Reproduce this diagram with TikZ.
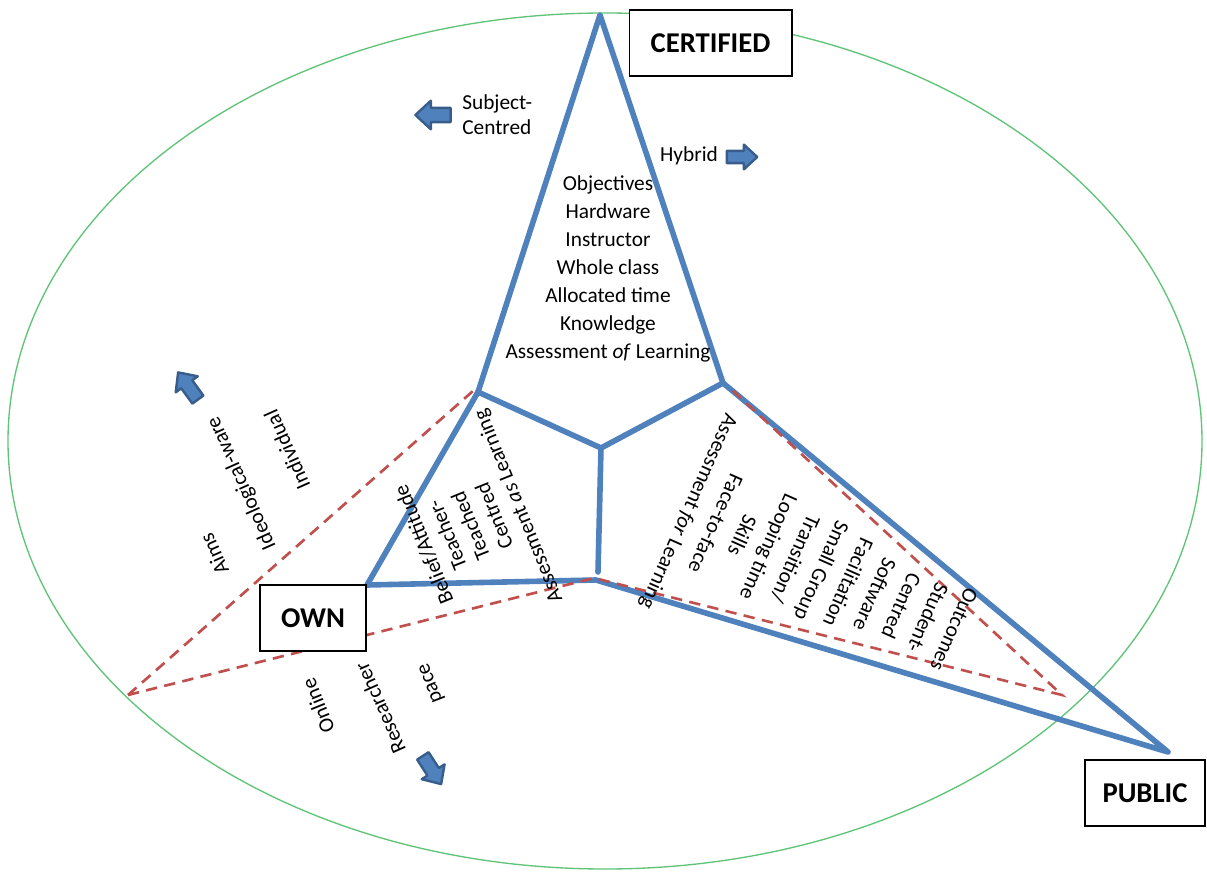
\documentclass[tikz,border=0pt]{standalone}
\usepackage{fontspec}
\setmainfont{Carlito}
\definecolor{line_blue}{HTML}{4F81BD}
\definecolor{arrow_edge}{HTML}{385D8A}
\definecolor{dash_red}{HTML}{C0504D}
\definecolor{ring_green}{RGB}{95,195,120}

\begin{document}
\begin{tikzpicture}[
  x=0.75pt, y=-0.75pt,
  frame_line/.style={line_blue, line width=4.2pt, line cap=round, line join=round,
    preaction={draw=black!15, transform canvas={shift={(1.2pt,-1.2pt)}}}},
  dash_line/.style={dash_red, line width=2pt, dash pattern=on 8.5pt off 5.5pt},
  ring/.style={ring_green, line width=1pt},
  corner_box/.style={draw, line width=1pt, fill=white, minimum width=#1, minimum height=49.5pt, inner sep=0pt, font=\fontsize{21.5}{25}\selectfont\bfseries},
  word/.style={font=\fontsize{16}{19}\selectfont, inner sep=0pt, align=center},
  blk_arrow/.pic={\filldraw[fill=line_blue, draw=arrow_edge, line width=1.8pt, line join=round]
    (-16,-6.5) -- (2,-6.5) -- (2,-13) -- (16,0) -- (2,13) -- (2,6.5) -- (-16,6.5) -- cycle;},
]
\useasboundingbox (0,0) rectangle (1207,877);

% outer ring
\draw[ring] (605,441) ellipse [x radius=597, y radius=428];

% corners of the frame
\coordinate (apex) at (600,15);
\coordinate (top_l) at (478,392);
\coordinate (top_r) at (723,383);
\coordinate (hub) at (601,448);
\coordinate (hub_low) at (598,572);
\coordinate (own_pt) at (367,585);
\coordinate (base) at (596,580);
\coordinate (pub_pt) at (1168,752);
\coordinate (far_l) at (128,695);
\coordinate (far_r) at (1062,695);
\coordinate (dash_l) at (473,391);
\coordinate (dash_r) at (730,388);
\coordinate (dash_b) at (594,578);

% blue frame
\draw[frame_line] (top_l) -- (apex) -- (top_r);
\draw[frame_line] (top_l) -- (own_pt) -- (base) -- (pub_pt) -- (top_r);
\draw[frame_line] (top_l) -- (hub) -- (top_r);
\draw[frame_line] (hub) -- (hub_low);

% red dashed frame
\draw[dash_line] (far_l) -- (dash_l);
\draw[dash_line] (far_l) -- (dash_b) -- (far_r) -- (dash_r);

% corner boxes
\node[corner_box=122pt] (certified) at (710.5,43) {CERTIFIED};
\node[corner_box=79.5pt] (own) at (313,618) {OWN};
\node[corner_box=90pt] (public) at (1145,793) {PUBLIC};

% arrows
\pic[rotate=180, scale=1.1] at (433,115) {blk_arrow};
\pic[scale=0.95] at (742,157) {blk_arrow};
\pic[rotate=126, scale=1.05] at (188,386) {blk_arrow};
\pic[rotate=-57, scale=1.05] at (432,770) {blk_arrow};

% texts
\node[word, align=left, anchor=west] (subject) at (462,115) {Subject-\\Centred};
\node[word] (hybrid) at (689,156) {Hybrid};
\node[word, font=\fontsize{16}{21}\selectfont] (cert_list) at (608,269)
  {Objectives\\Hardware\\Instructor\\Whole class\\Allocated time\\Knowledge\\Assessment \emph{of} Learning};

\node[word, rotate=114] (aims) at (214,554) {Aims};
\node[word, rotate=114] (ideo) at (242,483) {Ideological-ware};
\node[word, rotate=114] (indiv) at (287,450) {Individual};
\node[word, rotate=112] (online) at (318,706) {Online};
\node[word, rotate=114] (research) at (380,708) {Researcher};
\node[word, rotate=111] (pace) at (432,683) {pace};

\node[word, rotate=112] (own_list) at (472,525)
  {Belief/Attitude\\Teacher-\\Teached\\Centred\\Assessment \emph{as} Learning};
\node[word, rotate=-114, font=\fontsize{16}{21.75}\selectfont] (pub_list) at (820,570)
  {Outcomes\\Student-\\Centred\\Software\\Facilitation\\Small Group\\Transition/\\Looping time\\Skills\\Face-to-face\\Assessment \emph{for} Learning};
\end{tikzpicture}
\end{document}
